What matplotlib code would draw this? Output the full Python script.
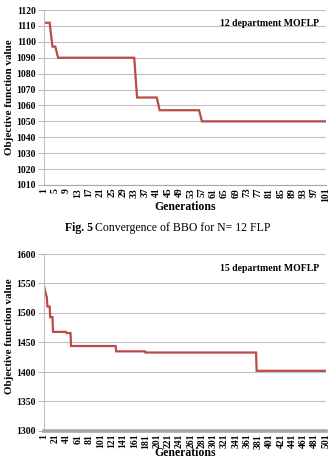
#!/usr/bin/env python3
"""Convergence of BBO for the 12 and 15 department MOFLP."""
import matplotlib
matplotlib.use("Agg")
import matplotlib.pyplot as plt
import numpy as np

# step runs: generation where a value starts, value
N12_GENERATIONS = 101
N12_STEP_START = [1, 4, 6, 34, 42, 57]
N12_STEP_VALUE = [1112, 1097, 1090, 1065, 1057, 1050]

N15_GENERATIONS = 501
N15_STEP_START = [1, 2, 3, 4, 5, 6, 7, 12, 17, 41, 49, 129, 181, 378]
N15_STEP_VALUE = [1546, 1541, 1537, 1533, 1530, 1527, 1511, 1493, 1468,
                  1466, 1444, 1435, 1433, 1402]

N12_YTICKS = list(range(1010, 1121, 10))
N15_YTICKS = list(range(1300, 1601, 50))

LINE_COLOR = "#BD4A47"
GRID_COLOR = "#BFBFBF"
FONT = "Liberation Serif"

plt.rcParams["font.family"] = FONT
plt.rcParams["font.weight"] = "bold"


def expand(starts, values, n):
    counts = np.diff(starts + [n + 1])
    return np.repeat(values, counts)


def draw(ax, n, starts, values, yticks, step, title, thick_base, label_y):
    gens = np.arange(1, n + 1)
    series = expand(starts, values, n)
    ax.plot(gens, series, color=LINE_COLOR, lw=1.6, solid_joinstyle="miter")
    ax.set_xlim(1, n)
    ax.set_ylim(yticks[0], yticks[-1])
    ax.set_yticks(yticks)
    ax.set_yticklabels([str(v) for v in yticks], fontsize=6.9)
    xt = list(range(1, n + 1, step))
    ax.set_xticks(xt)
    ax.set_xticklabels([str(v) for v in xt], rotation=90, fontsize=6.9)
    ax.grid(axis="y", color=GRID_COLOR, lw=0.8)
    ax.set_axisbelow(True)
    for s in ("top", "right"):
        ax.spines[s].set_visible(False)
    ax.spines["left"].set_color(GRID_COLOR)
    ax.spines["left"].set_linewidth(0.8)
    ax.spines["bottom"].set_color("#A6A6A6")
    ax.spines["bottom"].set_linewidth(2.6 if thick_base else 0.8)
    ax.tick_params(axis="y", length=4.3, width=0.6, color="#A6A6A6", pad=1.5)
    ax.tick_params(axis="x", length=0, pad=2)
    ax.set_ylabel("Objective function value", fontsize=8, fontweight="bold")
    ax.yaxis.set_label_coords(-0.105, label_y)
    ax.set_xlabel("Generations", fontsize=8.5, fontweight="bold", labelpad=-1)
    ax.text(0.975, 0.92, title, transform=ax.transAxes, ha="right", va="center",
            fontsize=7, fontweight="bold")


W, H = 331, 458
fig = plt.figure(figsize=(W / 100, H / 100), dpi=100)

ax1 = fig.add_axes([44 / W, 1 - 185 / H, 282 / W, 175 / H])
draw(ax1, N12_GENERATIONS, N12_STEP_START, N12_STEP_VALUE, N12_YTICKS, 4,
     "12 department MOFLP", False, 0.5)

ax2 = fig.add_axes([44 / W, 1 - 431 / H, 282 / W, 177 / H])
draw(ax2, N15_GENERATIONS, N15_STEP_START, N15_STEP_VALUE, N15_YTICKS, 20,
     "15 department MOFLP", True, 0.537)

# caption: bold figure number followed by plain text
t1 = fig.text(65 / W, 1 - 228 / H, "Fig. 5", ha="left", va="center",
              fontsize=8.5, fontweight="bold")
fig.canvas.draw()
bb = t1.get_window_extent()
fig.text((bb.x1 + 2) / W, 1 - 228 / H, "Convergence of BBO for N= 12 FLP",
         ha="left", va="center", fontsize=8.5, fontweight="normal")

fig.savefig("out.png", dpi=100)
